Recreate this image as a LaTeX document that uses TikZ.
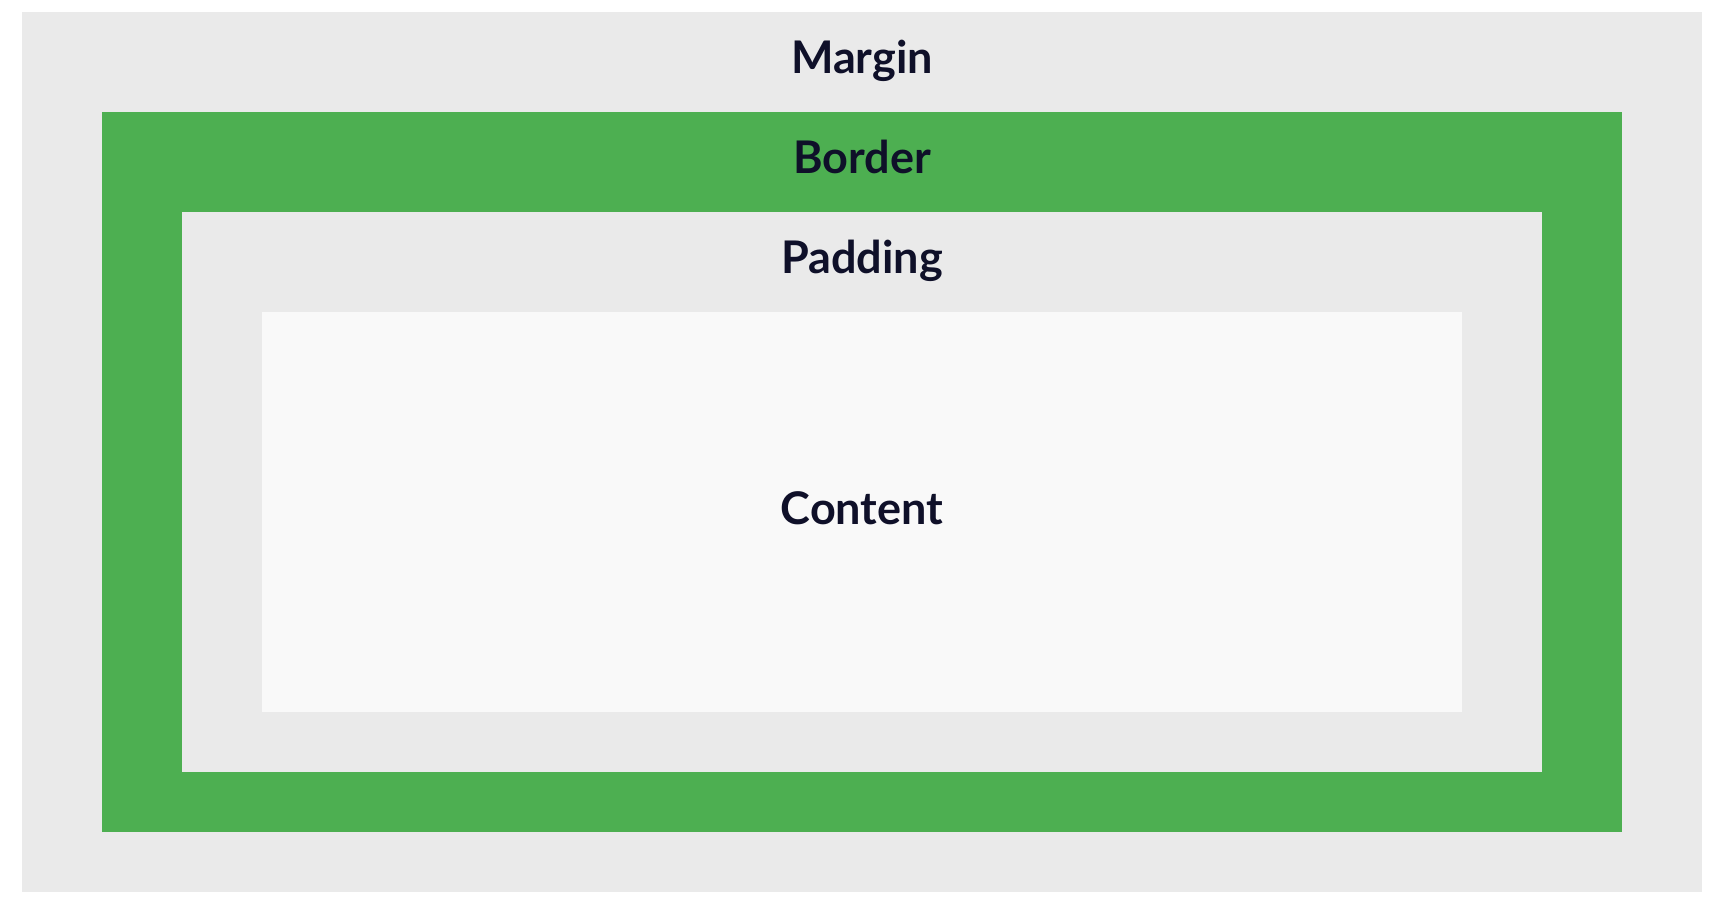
\documentclass[tikz,border=0pt]{standalone}
\usepackage{fontspec}
\setmainfont{Lato}
\definecolor{boxgrey}{HTML}{EAEAEA}
\definecolor{boxgreen}{HTML}{4DAF51}
\definecolor{contentbg}{HTML}{F9F9F9}
\definecolor{labeltext}{HTML}{0F1029}
\begin{document}
\begin{tikzpicture}[x=1pt,y=-1pt,
  lbl/.style={anchor=base,text=labeltext,font=\fontsize{45}{49}\selectfont\bfseries,inner sep=0pt}]
\useasboundingbox (0,0) rectangle (1720,902);
\fill[white] (0,0) rectangle (1720,902);
\fill[boxgrey] (22,12) rectangle (1702,892);
\fill[boxgreen] (102,112) rectangle (1622,832);
\fill[boxgrey] (182,212) rectangle (1542,772);
\fill[contentbg] (262,312) rectangle (1462,712);
\node[lbl] (margin) at (862,73) {Margin};
\node[lbl] (border) at (862,173) {Border};
\node[lbl] (padding) at (862,273) {Padding};
\node[lbl] (content) at (862,524) {Content};
\end{tikzpicture}
\end{document}
